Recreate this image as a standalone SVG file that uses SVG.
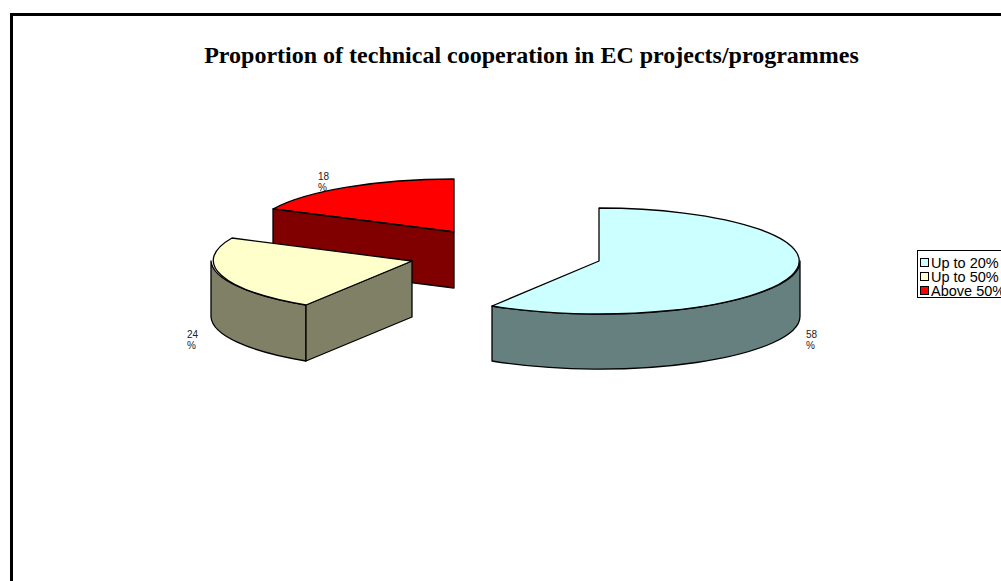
<svg xmlns="http://www.w3.org/2000/svg" width="1001" height="581" viewBox="0 0 1001 581">
<style>
.edge{stroke:#000;stroke-width:1.3;stroke-linejoin:round}
.lbl{font-family:"Liberation Sans",Arial,sans-serif;font-size:10px;fill:#222}
.leg{font-family:"Liberation Sans",Arial,sans-serif;font-size:14.5px;fill:#000}
.title{font-family:"Liberation Serif","Times New Roman",serif;font-size:24px;font-weight:bold;fill:#000}
</style>
<rect x="0" y="0" width="1001" height="581" fill="#fff"/>
<rect id="frame" x="11.5" y="14.5" width="1100" height="700" fill="#fff" stroke="#000" stroke-width="3"/>
<text class="title" x="531.5" y="63" text-anchor="middle">Proportion of technical cooperation in EC projects/programmes</text>
<g id="slice-above50">
<path class="edge" fill="#FF0000" d="M454,232 L454,179 A201,53 0 0,0 273,209 Z"/>
<path class="edge" fill="#800000" d="M273,209 L454,232 L454,288 L273,265 Z"/>
</g>
<g id="slice-upto50">
<path class="edge" fill="#808066" d="M306,305 A201,53 0 0,1 211,261 L211,317 A201,53 0 0,0 306,361 Z"/>
<path class="edge" fill="#808066" d="M412,261 L306,305 L306,361 L412,317 Z"/>
<path class="edge" fill="#FFFFCC" d="M412,261 L306,305 A201,53 0 0,1 232,238 Z"/>
</g>
<g id="slice-upto20">
<path class="edge" fill="#668080" d="M800,261 A201,53 0 0,1 492,306 L492,361 A201,53 0 0,0 800,316 Z"/>
<path class="edge" fill="#CCFFFF" d="M599,261 L599,208 A201,53 0 1,1 492,306 Z"/>
</g>
<g id="labels">
<text class="lbl" x="318" y="180">18</text>
<text class="lbl" x="318" y="191">%</text>
<text class="lbl" x="187" y="338">24</text>
<text class="lbl" x="187" y="349">%</text>
<text class="lbl" x="806" y="338">58</text>
<text class="lbl" x="806" y="349">%</text>
</g>
<g id="legend">
<rect x="917.5" y="250.5" width="100" height="47" fill="#fff" stroke="#000" stroke-width="1"/>
<rect x="920.5" y="258.5" width="8" height="8" fill="#CCFFFF" stroke="#000" stroke-width="1"/>
<text class="leg" x="931" y="268">Up to 20%</text>
<rect x="920.5" y="272.5" width="8" height="8" fill="#FFFFCC" stroke="#000" stroke-width="1"/>
<text class="leg" x="931" y="282">Up to 50%</text>
<rect x="920.5" y="286.5" width="8" height="8" fill="#FF0000" stroke="#000" stroke-width="1"/>
<text class="leg" x="931" y="296">Above 50%</text>
</g>
</svg>
